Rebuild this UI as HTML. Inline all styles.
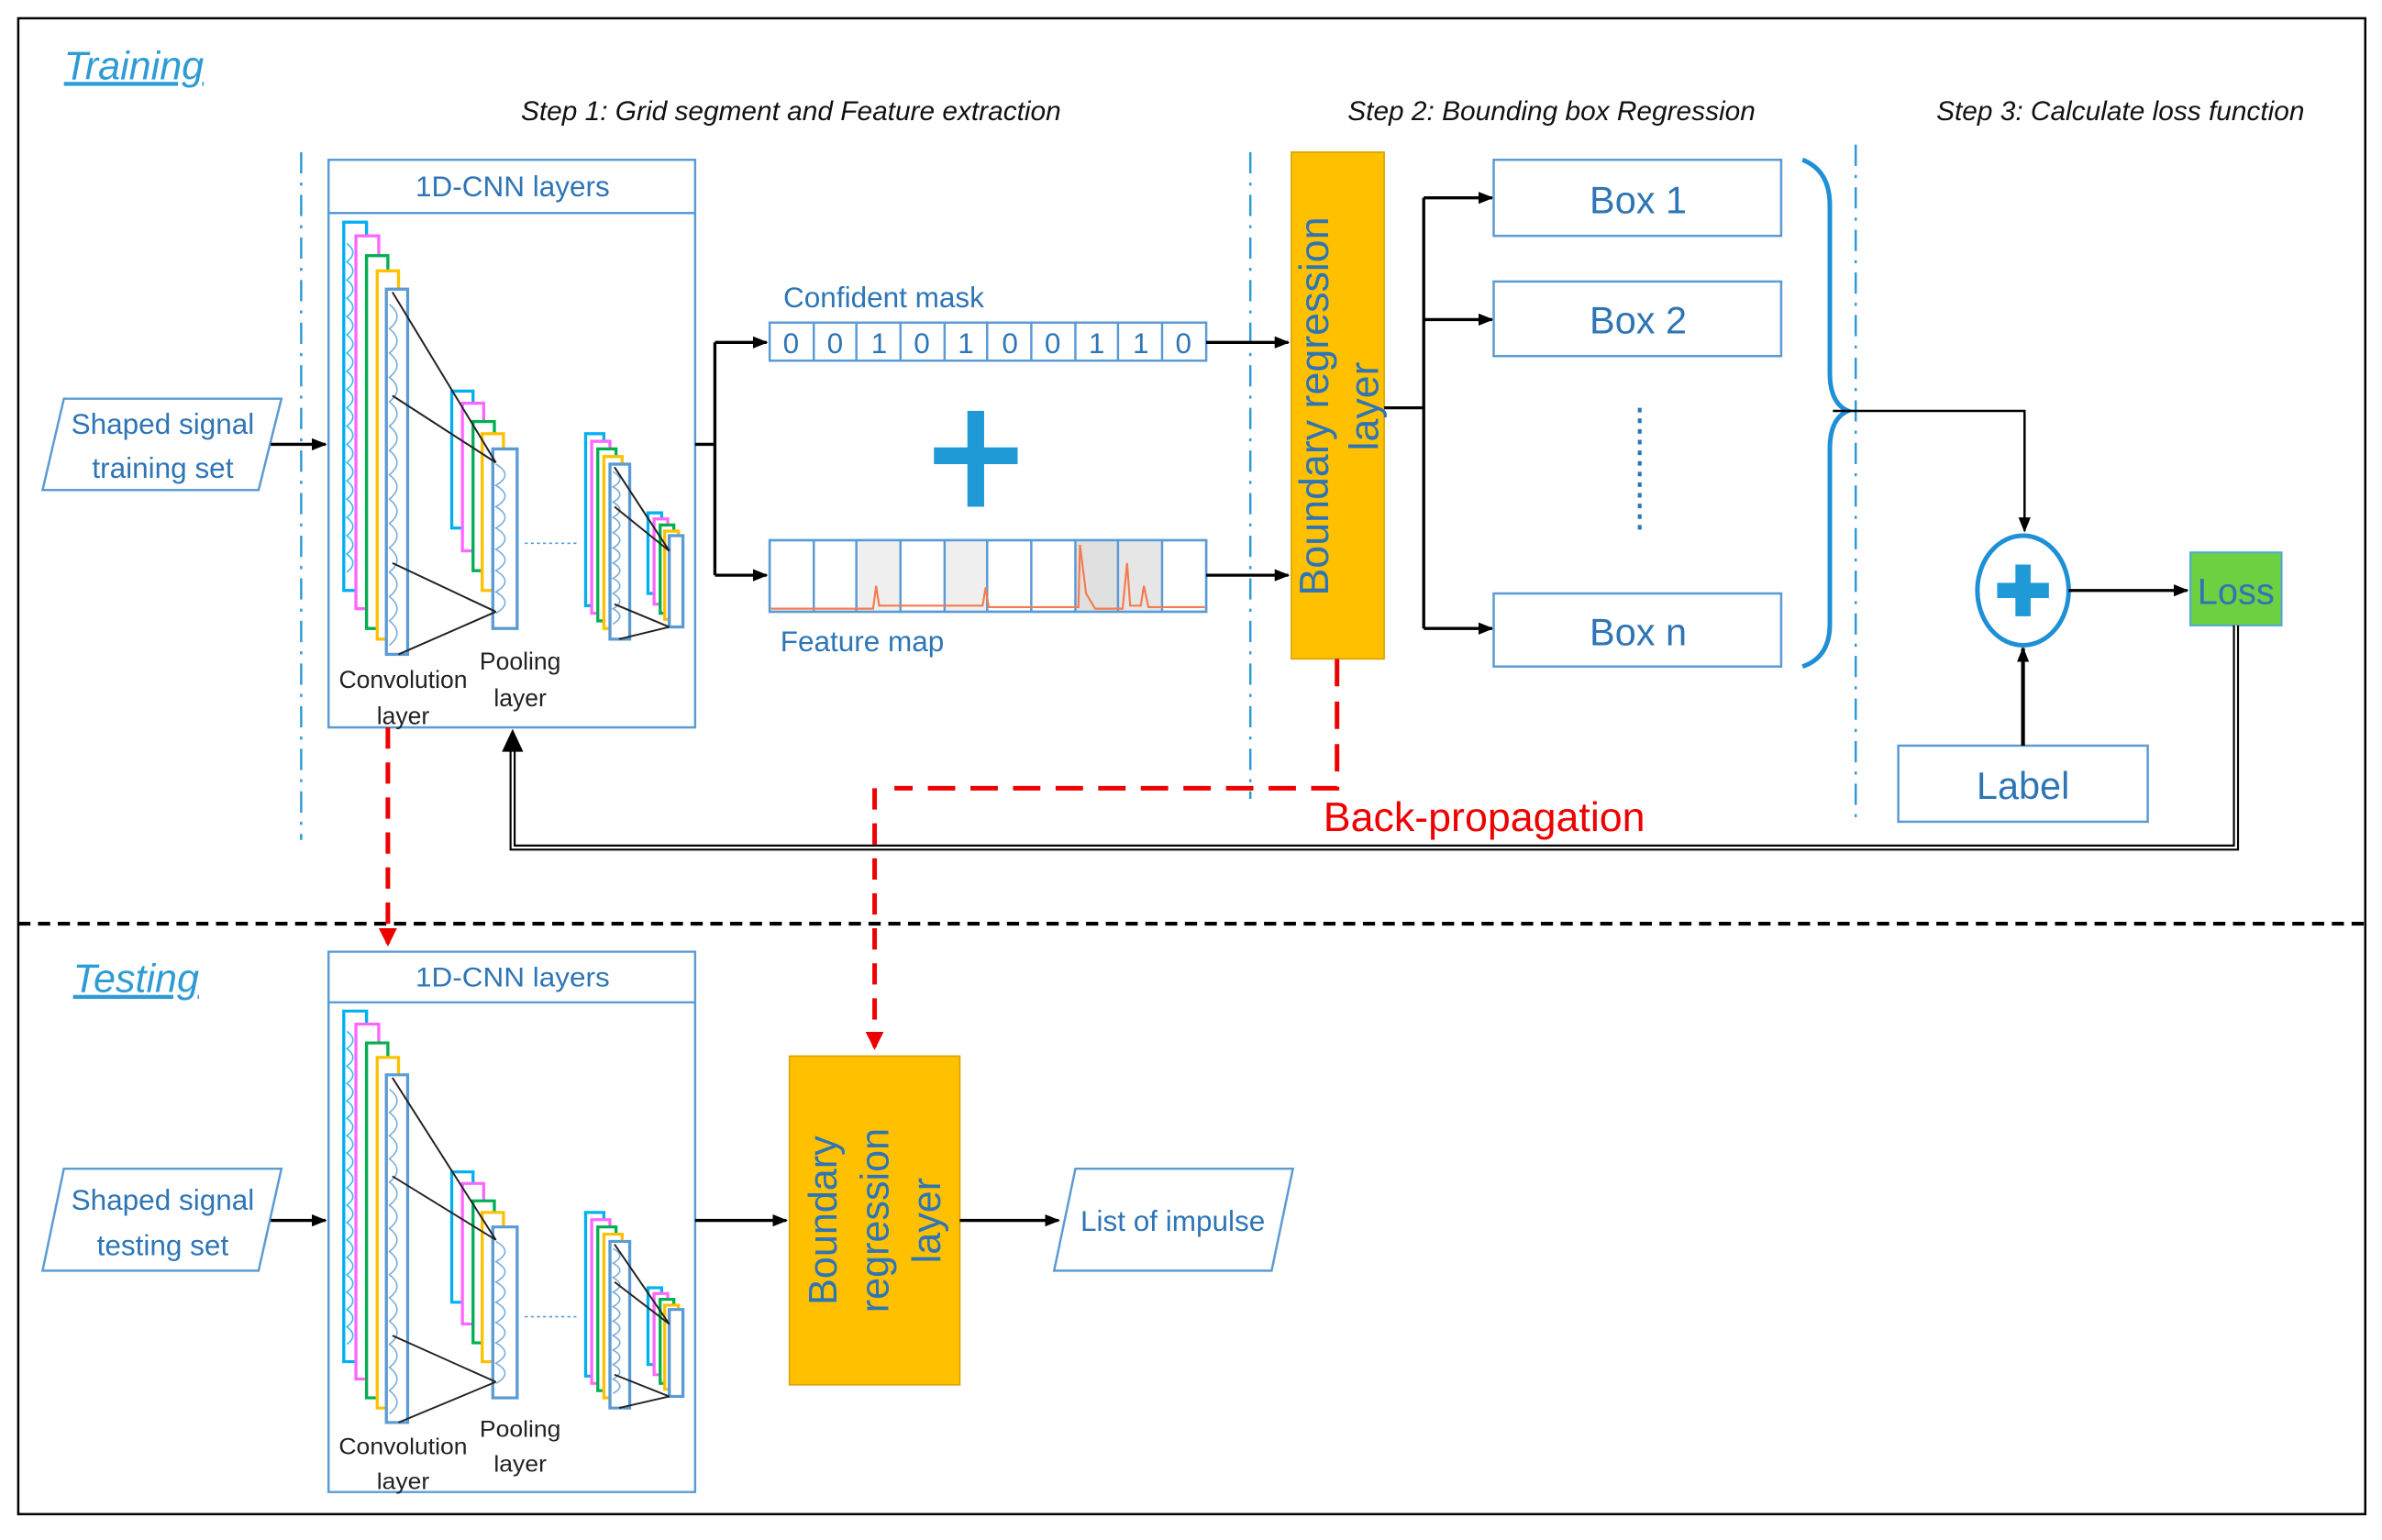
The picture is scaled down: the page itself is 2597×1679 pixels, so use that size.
<!DOCTYPE html>
<html><head><meta charset="utf-8"><style>
html,body{margin:0;padding:0;background:#fff;}
svg{display:block;}
text{font-family:"Liberation Sans",sans-serif;}
</style></head><body>
<svg width="2597" height="1679" viewBox="0 0 1566 1012" preserveAspectRatio="none" xmlns="http://www.w3.org/2000/svg">
<defs>
<marker id="ah" markerWidth="10" markerHeight="8" refX="9" refY="4" orient="auto" markerUnits="userSpaceOnUse"><path d="M0,0 L10,4 L0,8 z" fill="#000"/></marker>
<marker id="ahr" markerWidth="12" markerHeight="12" refX="10" refY="6" orient="auto" markerUnits="userSpaceOnUse"><path d="M0,0 L12,6 L0,12 z" fill="#e00"/></marker>
<g id="cnn">
  <rect x="216" y="105" width="241" height="373" fill="#fff" stroke="#5b9bd5" stroke-width="1.5"/>
  <line x1="216" y1="140" x2="457" y2="140" stroke="#5b9bd5" stroke-width="1.5"/>
  <text x="337" y="129" font-size="19" fill="#2e75b6" text-anchor="middle">1D-CNN layers</text>
  <g fill="#fff" stroke-width="2">
    <rect x="226" y="146" width="15" height="242" stroke="#00b0f0"/>
    <rect x="234" y="155" width="15" height="245" stroke="#ff66ff"/>
    <rect x="241" y="168" width="14" height="245" stroke="#00b050"/>
    <rect x="248" y="178" width="14" height="242" stroke="#ffc000"/>
    <rect x="254" y="190" width="14" height="240" stroke="#5b9bd5"/>
    <rect x="297" y="257" width="14" height="90" stroke="#00b0f0"/>
    <rect x="304" y="265" width="14" height="97" stroke="#ff66ff"/>
    <rect x="311" y="277" width="14" height="98" stroke="#00b050"/>
    <rect x="317" y="285" width="14" height="103" stroke="#ffc000"/>
    <rect x="324" y="295" width="16" height="118" stroke="#5b9bd5"/>
    <rect x="385" y="285" width="12" height="113" stroke="#00b0f0"/>
    <rect x="389" y="290" width="12" height="113" stroke="#ff66ff"/>
    <rect x="393" y="295" width="12" height="113" stroke="#00b050"/>
    <rect x="397" y="300" width="12" height="113" stroke="#ffc000"/>
    <rect x="401" y="305" width="13" height="115" stroke="#5b9bd5"/>
    <rect x="426" y="337" width="9" height="53" stroke="#00b0f0"/>
    <rect x="430" y="341" width="9" height="56" stroke="#ff66ff"/>
    <rect x="434" y="345" width="9" height="58" stroke="#00b050"/>
    <rect x="437" y="349" width="9" height="58" stroke="#ffc000"/>
    <rect x="440" y="352" width="9" height="60" stroke="#5b9bd5"/>
  </g>
  <g fill="none" stroke-width="1" opacity="0.8">
    <path d="M228,160 q8,6 0,12 q8,6 0,12 q8,6 0,12 q8,6 0,12 q8,6 0,12 q8,6 0,12 q8,6 0,12 q8,6 0,12 q8,6 0,12 q8,6 0,12 q8,6 0,12 q8,6 0,12 q8,6 0,12 q8,6 0,12 q8,6 0,12 q8,6 0,12 q8,6 0,12 q8,6 0,12" stroke="#00b0f0"/>
    <path d="M256,200 q10,8 0,16 q10,8 0,16 q10,8 0,16 q10,8 0,16 q10,8 0,16 q10,8 0,16 q10,8 0,16 q10,8 0,16 q10,8 0,16 q10,8 0,16 q10,8 0,16 q10,8 0,16 q10,8 0,16 q10,8 0,16" stroke="#5b9bd5"/>
    <path d="M326,305 q12,7 0,14 q12,7 0,14 q12,7 0,14 q12,7 0,14 q12,7 0,14 q12,7 0,14 q12,7 0,14" stroke="#5b9bd5"/>
    <path d="M403,310 q9,5 0,10 q9,5 0,10 q9,5 0,10 q9,5 0,10 q9,5 0,10 q9,5 0,10 q9,5 0,10 q9,5 0,10 q9,5 0,10 q9,5 0,10" stroke="#5b9bd5"/>
  </g>
  <g stroke="#222" stroke-width="1.2">
    <line x1="258" y1="192" x2="326" y2="304"/>
    <line x1="258" y1="260" x2="326" y2="304"/>
    <line x1="258" y1="370" x2="326" y2="402"/>
    <line x1="262" y1="430" x2="326" y2="402"/>
    <line x1="404" y1="307" x2="440" y2="362"/>
    <line x1="404" y1="333" x2="440" y2="362"/>
    <line x1="404" y1="397" x2="440" y2="412"/>
    <line x1="407" y1="420" x2="440" y2="412"/>
  </g>
  <line x1="345" y1="357" x2="381" y2="357" stroke="#5b9bd5" stroke-dasharray="2 2"/>
  <g font-size="16" fill="#222" text-anchor="middle">
    <text x="265" y="452">Convolution</text>
    <text x="265" y="476">layer</text>
    <text x="342" y="440">Pooling</text>
    <text x="342" y="464">layer</text>
  </g>
</g>
</defs>
<rect x="12" y="12" width="1543" height="983" fill="#fff" stroke="#000" stroke-width="1.5"/>
<line x1="12" y1="607" x2="1555" y2="607" stroke="#000" stroke-width="2.5" stroke-dasharray="8 5"/>
<text x="42" y="52" font-size="26" font-style="italic" fill="#2e9bd5" text-decoration="underline">Training</text>
<text x="48" y="652" font-size="26" font-style="italic" fill="#2e9bd5" text-decoration="underline">Testing</text>
<g font-size="18" font-style="italic" fill="#111" text-anchor="middle">
<text x="520" y="79">Step 1: Grid segment and Feature extraction</text>
<text x="1020" y="79">Step 2: Bounding box Regression</text>
<text x="1394" y="79">Step 3: Calculate loss function</text>
</g>
<g stroke="#2e9bd5" stroke-width="1.5" stroke-dasharray="14 6 2 6">
<line x1="198" y1="100" x2="198" y2="552"/>
<line x1="822" y1="100" x2="822" y2="525"/>
<line x1="1220" y1="95" x2="1220" y2="540"/>
</g>
<polygon points="42,262 185,262 170,322 28,322" fill="#fff" stroke="#5b9bd5" stroke-width="1.5"/>
<text x="107" y="285" font-size="19" fill="#2e75b6" text-anchor="middle">Shaped signal</text>
<text x="107" y="314" font-size="19" fill="#2e75b6" text-anchor="middle">training set</text>
<line x1="178" y1="292" x2="214" y2="292" stroke="#000" stroke-width="2" marker-end="url(#ah)"/>
<use href="#cnn"/>
<path d="M457,292 H470 M470,225 V378" stroke="#000" stroke-width="2" fill="none"/>
<line x1="470" y1="225" x2="504" y2="225" stroke="#000" stroke-width="2" marker-end="url(#ah)"/>
<line x1="470" y1="378" x2="504" y2="378" stroke="#000" stroke-width="2" marker-end="url(#ah)"/>
<text x="515" y="202" font-size="19" fill="#2e75b6">Confident mask</text>
<rect x="506" y="212" width="287" height="25" stroke="#5b9bd5" stroke-width="1.5" fill="#fff"/>
<g font-size="19" fill="#2e75b6" text-anchor="middle">
<text x="520" y="232">0</text><text x="549" y="232">0</text><text x="578" y="232">1</text><text x="606" y="232">0</text><text x="635" y="232">1</text><text x="664" y="232">0</text><text x="692" y="232">0</text><text x="721" y="232">1</text><text x="750" y="232">1</text><text x="778" y="232">0</text>
</g>
<g stroke="#5b9bd5" stroke-width="1.5">
<line x1="535" y1="212" x2="535" y2="237"/><line x1="563" y1="212" x2="563" y2="237"/><line x1="592" y1="212" x2="592" y2="237"/><line x1="621" y1="212" x2="621" y2="237"/><line x1="649" y1="212" x2="649" y2="237"/><line x1="678" y1="212" x2="678" y2="237"/><line x1="707" y1="212" x2="707" y2="237"/><line x1="735" y1="212" x2="735" y2="237"/><line x1="764" y1="212" x2="764" y2="237"/>
</g>
<rect x="636" y="270" width="11" height="63" fill="#1f9ad6"/>
<rect x="614" y="294" width="55" height="11" fill="#1f9ad6"/>
<rect x="506" y="355" width="287" height="47" fill="#fff" stroke="#5b9bd5" stroke-width="1.5"/>
<rect x="563" y="355" width="29" height="47" fill="#efefef"/>
<rect x="621" y="355" width="28" height="47" fill="#efefef"/>
<rect x="707" y="355" width="28" height="47" fill="#e0e0e0"/>
<rect x="735" y="355" width="29" height="47" fill="#e6e6e6"/>
<g stroke="#5b9bd5" stroke-width="1.5">
<line x1="535" y1="355" x2="535" y2="402"/><line x1="563" y1="355" x2="563" y2="402"/><line x1="592" y1="355" x2="592" y2="402"/><line x1="621" y1="355" x2="621" y2="402"/><line x1="649" y1="355" x2="649" y2="402"/><line x1="678" y1="355" x2="678" y2="402"/><line x1="707" y1="355" x2="707" y2="402"/><line x1="735" y1="355" x2="735" y2="402"/><line x1="764" y1="355" x2="764" y2="402"/>
<rect x="506" y="355" width="287" height="47" fill="none"/>
</g>
<path d="M507,400 H574 L576,385 L578,398 H646 L648,386 L650,399 H709 L710,358 L714,390 L720,400 H738 L741,370 L743,398 H750 L752,385 L755,399 H792" stroke="#f47b4f" stroke-width="1.3" fill="none"/>
<text x="513" y="428" font-size="19" fill="#2e75b6">Feature map</text>
<line x1="793" y1="225" x2="847" y2="225" stroke="#000" stroke-width="2" marker-end="url(#ah)"/>
<line x1="793" y1="378" x2="847" y2="378" stroke="#000" stroke-width="2" marker-end="url(#ah)"/>
<rect x="849" y="100" width="61" height="333" fill="#ffc000" stroke="#d9a400" stroke-width="1"/>
<text transform="translate(873,267) rotate(-90)" font-size="27" fill="#2e75b6" text-anchor="middle">Boundary regression</text>
<text transform="translate(906,267) rotate(-90)" font-size="27" fill="#2e75b6" text-anchor="middle">layer</text>
<path d="M910,268 H936 M936,130 V413" stroke="#000" stroke-width="2" fill="none"/>
<line x1="936" y1="130" x2="981" y2="130" stroke="#000" stroke-width="2" marker-end="url(#ah)"/>
<line x1="936" y1="210" x2="981" y2="210" stroke="#000" stroke-width="2" marker-end="url(#ah)"/>
<line x1="936" y1="413" x2="981" y2="413" stroke="#000" stroke-width="2" marker-end="url(#ah)"/>
<g stroke="#5b9bd5" stroke-width="1.5" fill="#fff">
<rect x="982" y="105" width="189" height="50"/>
<rect x="982" y="185" width="189" height="49"/>
<rect x="982" y="390" width="189" height="48"/>
</g>
<g font-size="25" fill="#2e75b6" text-anchor="middle">
<text x="1077" y="140">Box 1</text>
<text x="1077" y="219">Box 2</text>
<text x="1077" y="424">Box n</text>
</g>
<line x1="1078" y1="268" x2="1078" y2="352" stroke="#2e75b6" stroke-width="2.5" stroke-dasharray="3 4"/>
<path d="M1185,105 Q1203,112 1203,135 V245 Q1203,265 1215,270 Q1203,275 1203,295 V410 Q1203,432 1185,438" stroke="#1f8fd6" stroke-width="3" fill="none"/>
<path d="M1205,270 H1331 V349" stroke="#000" stroke-width="1.5" fill="none" marker-end="url(#ah)"/>
<ellipse cx="1330" cy="388" rx="30" ry="36" fill="#fff" stroke="#1f8fd6" stroke-width="3"/>
<rect x="1325" y="371" width="10" height="34" fill="#1f9ad6"/>
<rect x="1313" y="383" width="34" height="10" fill="#1f9ad6"/>
<line x1="1360" y1="388" x2="1438" y2="388" stroke="#000" stroke-width="2" marker-end="url(#ah)"/>
<rect x="1440" y="363" width="60" height="48" fill="#6cd040" stroke="#4ea8d8" stroke-width="1.2"/>
<text x="1470" y="397" font-size="24" fill="#2e75b6" text-anchor="middle">Loss</text>
<rect x="1248" y="490" width="164" height="50" fill="#fff" stroke="#5b9bd5" stroke-width="1.5"/>
<text x="1330" y="525" font-size="25" fill="#2e75b6" text-anchor="middle">Label</text>
<line x1="1330" y1="490" x2="1330" y2="426" stroke="#000" stroke-width="2.5" marker-end="url(#ah)"/>
<path d="M1470,411 V557 H337 V490" stroke="#000" stroke-width="4" fill="none"/>
<path d="M1470,411 V557 H337 V490" stroke="#fff" stroke-width="1.4" fill="none"/>
<path d="M337,479 L330,494 L344,494 z" fill="#000"/>
<path d="M879,433 V518 H588" stroke="#e00" stroke-width="3" fill="none" stroke-dasharray="18 10"/>
<line x1="575" y1="518" x2="575" y2="688" stroke="#e00" stroke-width="3" stroke-dasharray="14 9" marker-end="url(#ahr)"/>
<line x1="255" y1="478" x2="255" y2="620" stroke="#e00" stroke-width="3" stroke-dasharray="14 9" marker-end="url(#ahr)"/>
<text x="870" y="546" font-size="27" fill="#e00">Back-propagation</text>
<polygon points="42,768 185,768 170,835 28,835" fill="#fff" stroke="#5b9bd5" stroke-width="1.5"/>
<text x="107" y="795" font-size="19" fill="#2e75b6" text-anchor="middle">Shaped signal</text>
<text x="107" y="825" font-size="19" fill="#2e75b6" text-anchor="middle">testing set</text>
<line x1="178" y1="802" x2="214" y2="802" stroke="#000" stroke-width="2" marker-end="url(#ah)"/>
<g transform="translate(0,633) scale(1,0.952) translate(0,-105)"><use href="#cnn" transform="translate(0,-8)"/></g>
<line x1="457" y1="802" x2="517" y2="802" stroke="#000" stroke-width="2" marker-end="url(#ah)"/>
<rect x="519" y="694" width="112" height="216" fill="#ffc000" stroke="#d9a400" stroke-width="1"/>
<text transform="translate(550,802) rotate(-90)" font-size="26" fill="#2e75b6" text-anchor="middle">Boundary</text>
<text transform="translate(584,802) rotate(-90)" font-size="26" fill="#2e75b6" text-anchor="middle">regression</text>
<text transform="translate(618,802) rotate(-90)" font-size="26" fill="#2e75b6" text-anchor="middle">layer</text>
<line x1="631" y1="802" x2="696" y2="802" stroke="#000" stroke-width="2" marker-end="url(#ah)"/>
<polygon points="707,768 850,768 836,835 693,835" fill="#fff" stroke="#5b9bd5" stroke-width="1.5"/>
<text x="771" y="809" font-size="19" fill="#2e75b6" text-anchor="middle">List of impulse</text>
</svg>
</body></html>
